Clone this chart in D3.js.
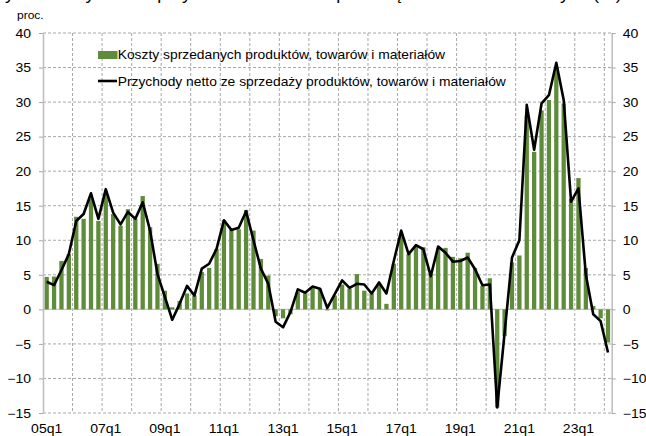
<!DOCTYPE html>
<html><head><meta charset="utf-8">
<script src="https://cdn.jsdelivr.net/npm/d3@7/dist/d3.min.js"></script>
<style>
body{margin:0;background:#fff;}
svg{display:block;}
text{font-family:"Liberation Sans",Arial,sans-serif;fill:#000;}
</style>
</head><body>
<svg id="c" width="646" height="436"></svg>
<script>
// ---- data ----
const years = ["05","06","07","08","09","10","11","12","13","14","15","16","17","18","19","20","21","22","23","24"];
const quarterNames = ["q1","q2","q3","q4"];
const categories = [];
years.forEach(yy => quarterNames.forEach(q => categories.push(yy + q)));
categories.splice(77); // 05q1 .. 24q1

const costs = [
  4.7, 4.75, 7.0, 8.0, 13.4, 13.1, 16.0, 12.8, 16.8, 13.8, 12.1, 14.5, 13.1, 16.4, 11.9, 6.6,
  2.7, 0.3, 1.2, 2.3, 2.0, 5.4, 6.0, 8.75, 12.9, 11.5, 11.6, 14.4, 11.4, 7.3, 4.9, -1.0,
  -1.3, -0.7, 2.5, 2.3, 3.2, 3.0, -0.15, 2.0, 3.6, 3.0, 5.1, 2.7, 2.3, 3.7, 0.8, 6.6,
  10.7, 8.0, 9.1, 9.0, 5.2, 8.8, 8.9, 7.6, 7.4, 8.2, 6.0, 3.4, 4.5, -14.2, -3.85, 6.8,
  7.8, 28.0, 22.8, 28.8, 30.3, 35.0, 29.8, 16.0, 19.0, 6.0, 0.5, -1.3, -4.8
];
const revenue = [
  4.0, 3.5, 5.7, 8.0, 12.8, 13.8, 16.8, 13.1, 17.4, 14.0, 12.3, 14.1, 13.1, 15.5, 11.4, 5.1,
  1.8, -1.5, 0.8, 3.4, 2.0, 5.9, 6.6, 8.75, 12.9, 11.5, 11.8, 14.2, 10.0, 5.9, 3.7, -1.8,
  -2.6, -0.4, 2.9, 2.4, 3.3, 3.0, 0.2, 2.2, 4.2, 3.1, 3.7, 3.6, 2.3, 3.9, 2.3, 7.0,
  11.4, 8.0, 9.3, 8.7, 4.8, 9.1, 8.2, 6.9, 7.0, 7.5, 5.8, 3.5, 3.6, -14.2, -3.4, 7.5,
  10.0, 29.6, 23.1, 29.8, 31.0, 35.7, 30.3, 15.6, 17.5, 5.0, -0.7, -1.7, -6.25
];
const yTicks = [-15, -10, -5, 0, 5, 10, 15, 20, 25, 30, 35, 40];
const xTickLabels = ["05q1","07q1","09q1","11q1","13q1","15q1","17q1","19q1","21q1","23q1"];
const legendLabels = ["Koszty sprzedanych produktów, towarów i materiałów",
                      "Przychody netto ze sprzedaży produktów, towarów i materiałów"];
const unitLabel = "proc.";
const titleText = "Wykres 1. Dynamika przychodów i kosztów przedsiębiorstw niefinansowych (r/r)";

// ---- layout ----
const L = 43, R = 611.7, T = 33, B = 413;
const green = "#5f8c3b";
const gridCol = "#a8a8a8";
const sx = 1.17;

const svg = d3.select("#c");
const x = d3.scaleBand().domain(categories).range([L, R]).paddingInner(0.42).paddingOuter(0.21);
const y = d3.scaleLinear().domain([-15, 40]).range([B, T]);
const step = x.step();
const boundary = c => x(c) - x.paddingOuter() * step;

// title (cut off at top)
svg.append("text").attr("transform", "translate(305,0) scale(1.12,1)")
  .attr("text-anchor", "middle").style("font-size", "16px").text(titleText);

// horizontal grid
svg.append("g").selectAll("line").data(yTicks.filter(v => v !== 0)).join("line")
  .attr("x1", L).attr("x2", R).attr("y1", d => y(d)).attr("y2", d => y(d))
  .attr("stroke", gridCol).attr("stroke-width", 1).attr("stroke-dasharray", "3,2");

// vertical grid every 4 quarters
const vIdx = d3.range(4, categories.length, 4);
svg.append("g").selectAll("line").data(vIdx).join("line")
  .attr("x1", i => boundary(categories[i])).attr("x2", i => boundary(categories[i]))
  .attr("y1", T).attr("y2", B)
  .attr("stroke", gridCol).attr("stroke-width", 1).attr("stroke-dasharray", "3,2");

// zero line
svg.append("line").attr("x1", L).attr("x2", R).attr("y1", y(0)).attr("y2", y(0))
  .attr("stroke", "#c4c4c4").attr("stroke-width", 1.2);

// bars
svg.append("g").selectAll("rect").data(costs).join("rect")
  .attr("x", (d, i) => x(categories[i]))
  .attr("width", x.bandwidth())
  .attr("y", d => Math.min(y(d), y(0)))
  .attr("height", d => Math.abs(y(d) - y(0)))
  .attr("fill", green);

// line
const line = d3.line().x((d, i) => x(categories[i]) + x.bandwidth() / 2).y(d => y(d));
svg.append("path").datum(revenue).attr("d", line)
  .attr("fill", "none").attr("stroke", "#000").attr("stroke-width", 2.6)
  .attr("stroke-linejoin", "round");

// axes
function styleAxis(g, tx, ty) {
  g.select(".domain").attr("stroke", "#c0c0c0").attr("stroke-width", 1.6);
  g.selectAll(".tick line").attr("stroke", "#a8a8a8");
  g.selectAll(".tick text").attr("x", 0).attr("y", 0).attr("dy", 0)
    .style("font-size", "12px").style("font-family", '"Liberation Sans",Arial,sans-serif')
    .attr("fill", "#000")
    .attr("transform", `translate(${tx},${ty}) scale(${sx},1)`);
}
const gl = svg.append("g").attr("transform", `translate(${L},0)`)
  .call(d3.axisLeft(y).tickValues(yTicks).tickSize(4).tickSizeOuter(0));
styleAxis(gl, -12, 4.3);
const gr = svg.append("g").attr("transform", `translate(${R},0)`)
  .call(d3.axisRight(y).tickValues(yTicks).tickSize(4).tickSizeOuter(0));
styleAxis(gr, 11, 4.3);
gr.selectAll(".tick text").attr("text-anchor", "start");

const gb = svg.append("g").attr("transform", `translate(0,${B})`)
  .call(d3.axisBottom(x).tickValues(xTickLabels).tickSize(0));
gb.select(".domain").remove();
styleAxis(gb, 0, 20);

// unit label
svg.append("text").attr("transform", "translate(17,19) scale(1.2,1)")
  .style("font-size", "10px").text(unitLabel);

// legend
const lg = svg.append("g");
lg.append("rect").attr("x", 98).attr("y", 51).attr("width", 19.5).attr("height", 8).attr("fill", green);
lg.append("line").attr("x1", 98).attr("x2", 117).attr("y1", 81).attr("y2", 81)
  .attr("stroke", "#000").attr("stroke-width", 2.6);
lg.selectAll("text").data(legendLabels).join("text")
  .attr("transform", (d, i) => `translate(117.7,${59.3 + i * 26.2}) scale(1.154,1)`)
  .style("font-size", "12px").text(d => d);
</script>
</body></html>
